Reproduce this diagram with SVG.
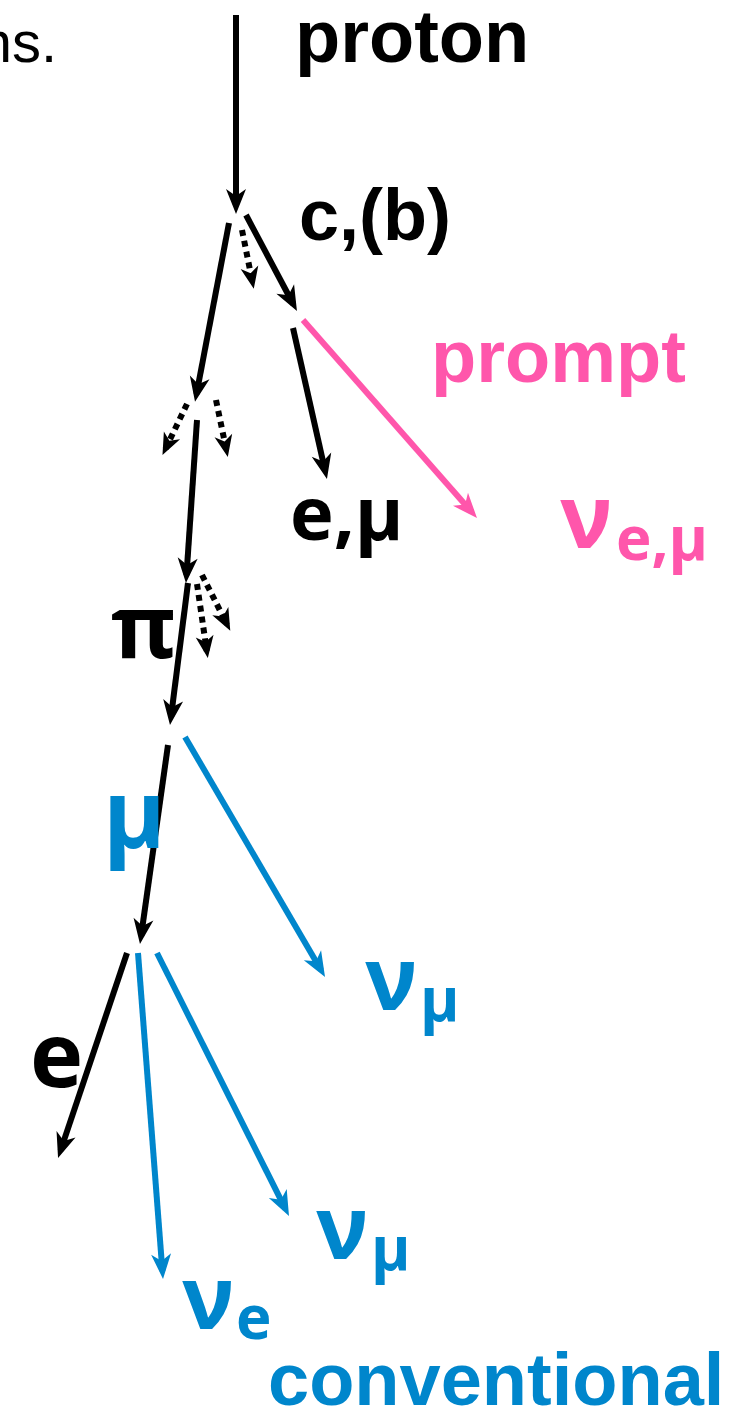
<svg xmlns="http://www.w3.org/2000/svg" width="745" height="1410" viewBox="0 0 745 1410">
<defs>
<style>
.k{stroke:#000;stroke-width:6;fill:none}
.d{stroke:#000;stroke-width:6;fill:none;stroke-dasharray:6 5}
.b{stroke:#0086cc;stroke-width:6;fill:none}
.p{stroke:#ff56ab;stroke-width:6;fill:none}
.ar{font-family:"Liberation Sans",Arial,sans-serif;font-weight:bold}
.gr{font-family:"Open Sans","Noto Sans",sans-serif;font-weight:bold}
</style>
<marker id="mk" markerUnits="userSpaceOnUse" orient="auto" markerWidth="40" markerHeight="40" viewBox="-20 -20 40 40" refX="0" refY="0"><path d="M8,0 L-17,-10 L-10,0 L-17,10 Z" fill="#000"/></marker>
<marker id="md" markerUnits="userSpaceOnUse" orient="auto" markerWidth="40" markerHeight="40" viewBox="-20 -20 40 40" refX="0" refY="0"><path d="M7,0 L-15,-9 L-9,0 L-15,9 Z" fill="#000"/></marker>
<marker id="mb" markerUnits="userSpaceOnUse" orient="auto" markerWidth="40" markerHeight="40" viewBox="-20 -20 40 40" refX="0" refY="0"><path d="M8,0 L-17,-10 L-10,0 L-17,10 Z" fill="#0086cc"/></marker>
<marker id="mp" markerUnits="userSpaceOnUse" orient="auto" markerWidth="40" markerHeight="40" viewBox="-20 -20 40 40" refX="0" refY="0"><path d="M8,0 L-17,-10 L-10,0 L-17,10 Z" fill="#ff56ab"/></marker>
</defs>
<g id="connectors">
<line class="k" x1="236" y1="15" x2="236" y2="206" marker-end="url(#mk)"/>
<line class="k" x1="229" y1="223" x2="196.5" y2="394" marker-end="url(#mk)"/>
<line class="d" x1="242" y1="230" x2="252.4" y2="282" marker-end="url(#md)"/>
<line class="k" x1="246" y1="215" x2="293.2" y2="304" marker-end="url(#mk)"/>
<line class="k" x1="293" y1="328" x2="325.2" y2="471.2" marker-end="url(#mk)"/>
<line class="p" x1="303" y1="320" x2="471.7" y2="512" marker-end="url(#mp)"/>
<line class="d" x1="187" y1="404" x2="165.5" y2="448.8" marker-end="url(#md)"/>
<line class="d" x1="216" y1="400" x2="226.4" y2="450.2" marker-end="url(#md)"/>
<line class="k" x1="197" y1="420" x2="186.5" y2="575" marker-end="url(#mk)"/>
<line class="d" x1="202" y1="575" x2="227.1" y2="624.5" marker-end="url(#md)"/>
<line class="d" x1="197" y1="584" x2="206.8" y2="651" marker-end="url(#md)"/>
<line class="k" x1="188" y1="583" x2="171" y2="717" marker-end="url(#mk)"/>
<line class="k" x1="168" y1="745" x2="141.1" y2="936" marker-end="url(#mk)"/>
<line class="b" x1="185" y1="737" x2="321" y2="970" marker-end="url(#mb)"/>
<line class="k" x1="127" y1="953" x2="60.6" y2="1150.4" marker-end="url(#mk)"/>
<line class="b" x1="138" y1="953" x2="162.4" y2="1271" marker-end="url(#mb)"/>
<line class="b" x1="157" y1="953" x2="285.4" y2="1208.8" marker-end="url(#mb)"/>
</g>
<g id="ns"><text x="57" y="62" text-anchor="end" font-family="Liberation Sans,Arial,sans-serif" font-size="58">ns.</text></g>
<g id="proton"><text class="ar" x="295" y="62" font-size="74">proton</text></g>
<g id="cb"><text class="ar" x="299" y="240" font-size="72">c,(b)</text></g>
<g id="prompt"><text class="ar" x="431" y="382" font-size="74" fill="#ff56ab">prompt</text></g>
<g id="emu"><text class="gr" x="290" y="540" font-size="74">e,μ</text></g>
<g id="nu-prompt"><text class="gr" x="560" y="548" font-size="88" fill="#ff56ab">ν</text><text class="gr" x="616" y="560" font-size="60" fill="#ff56ab">e,μ</text></g>
<g id="pi"><text class="gr" x="111" y="658" font-size="88">π</text></g>
<g id="mu"><text class="gr" x="103" y="848" font-size="95" fill="#0086cc">μ</text></g>
<g id="numu1"><text class="gr" x="365" y="1010" font-size="88" fill="#0086cc">ν</text><text class="gr" x="420" y="1021" font-size="60" fill="#0086cc">μ</text></g>
<g id="e"><text class="gr" x="30" y="1087" font-size="90">e</text></g>
<g id="numu2"><text class="gr" x="316" y="1259" font-size="88" fill="#0086cc">ν</text><text class="gr" x="371" y="1270" font-size="60" fill="#0086cc">μ</text></g>
<g id="nue"><text class="gr" x="182" y="1329" font-size="88" fill="#0086cc">ν</text><text class="gr" x="236" y="1339" font-size="60" fill="#0086cc">e</text></g>
<g id="conventional"><text class="ar" x="268" y="1405" font-size="74" fill="#0086cc">conventional</text></g>
</svg>
